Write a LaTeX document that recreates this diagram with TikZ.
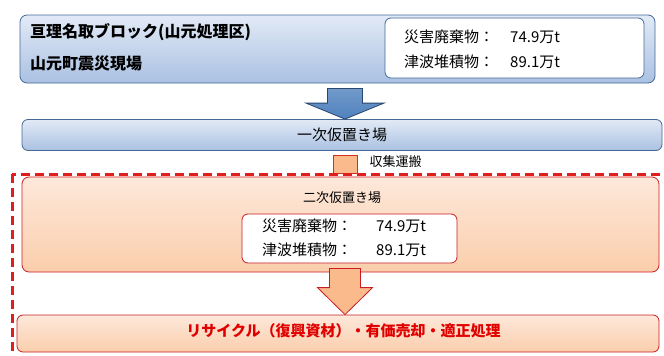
\documentclass[tikz,border=0pt]{standalone}
\usepackage{fontspec}
\setmainfont{Noto Sans CJK JP}
\usetikzlibrary{positioning, calc, shapes, fit}
\definecolor{bluebd}{RGB}{70,104,150}
\definecolor{bluetop}{RGB}{226,234,246}
\definecolor{bluebot}{RGB}{170,193,226}
\definecolor{arrblue}{RGB}{79,129,189}
\definecolor{arrbd}{RGB}{40,70,110}
\definecolor{redbd}{RGB}{200,30,35}
\definecolor{dashred}{RGB}{225,30,30}
\definecolor{peachtop}{RGB}{253,232,218}
\definecolor{peachbot}{RGB}{251,206,172}
\definecolor{arrpeach}{RGB}{250,186,140}
\definecolor{txtred}{RGB}{225,0,0}

\tikzset{
  bluebox/.style={rounded corners=7pt, draw=bluebd, thick, top color=bluetop, bottom color=bluebot},
  peachbox/.style={rounded corners=7pt, draw=redbd, thick, top color=peachtop, bottom color=peachbot},
  inbox/.style={rounded corners=6pt, draw, thick, fill=white},
  amount/.style={font=\fontsize{15}{18}\selectfont, inner sep=0pt, anchor=west},
  sitetext/.style={font=\bfseries\fontsize{16}{19}\selectfont, inner sep=0pt, anchor=west},
}

% block arrow: style, from, to, shaft half width, head half width, head length
\newcommand{\blockarr}[6]{%
  \draw[#1] let \p1=(#2), \p2=(#3) in
    (\x1-#4,\y1) -- (\x1+#4,\y1) -- (\x1+#4,\y2+#6) -- (\x1+#5,\y2+#6) --
    (\x1,\y2) -- (\x1-#5,\y2+#6) -- (\x1-#4,\y2+#6) -- cycle;}

\begin{document}
\begin{tikzpicture}[x=1pt,y=-1pt]
    \useasboundingbox (0,0) rectangle (664,356);
    % site
    \node[bluebox, minimum width=635pt, minimum height=68pt] (site) at (337.5,49) {};
    \node[sitetext] (site1) at (30,32) {亘理名取ブロック(山元処理区)};
    \node[sitetext] (site2) at (30,63) {山元町震災現場};
    \node[inbox, draw=bluebd, minimum width=259pt, minimum height=60pt] (sum1) at (514.5,48) {};
    \node[amount] (s1a) at (404,37) {災害廃棄物：};
    \node[amount] (s1b) at (404,62) {津波堆積物：};
    \node[amount] (s1c) at (510,37) {74.9万t};
    \node[amount] (s1d) at (510,62) {89.1万t};
    % first temporary yard
    \node[bluebox, rounded corners=6pt, minimum width=640pt, minimum height=31pt,
          font=\fontsize{15}{18}\selectfont] (yard1) at (342,135) {一次仮置き場};
    \coordinate (a1) at ($(site.south)+(7.5,5)$);
    \blockarr{draw=arrbd, thick, top color=arrblue!80, bottom color=arrblue}{a1}{a1 |- yard1.north}{17.5}{39}{16}
    % haulage
    \node[draw=redbd!80!orange, thick, fill=arrpeach, minimum width=24pt, minimum height=18pt,
          inner sep=0pt] (haul) at (345,164) {};
    \node[right=12pt of haul.east, yshift=2pt, font=\fontsize{13}{16}\selectfont, inner sep=0pt] (haullbl) {収集運搬};
    % dashed frame
    \draw[dashred, line width=3pt, dash pattern=on 9pt off 5pt] (12,174) rectangle (690,380);
    % second temporary yard
    \node[peachbox, minimum width=637pt, minimum height=95pt] (yard2) at (340.5,224.5) {};
    \node[font=\fontsize{13}{16}\selectfont] (yard2lbl) at (342,198) {二次仮置き場};
    \node[inbox, draw=redbd, minimum width=215pt, minimum height=49pt] (sum2) at (349.5,238.5) {};
    \node[amount] (s2a) at (262,226) {災害廃棄物：};
    \node[amount] (s2b) at (262,250) {津波堆積物：};
    \node[amount] (s2c) at (376,226) {74.9万t};
    \node[amount] (s2d) at (376,250) {89.1万t};
    % recycling
    \node[peachbox, rounded corners=6pt, minimum width=642pt, minimum height=37pt] (recycle) at (338,333.5) {};
    \node[font=\bfseries\fontsize{15}{18}\selectfont, text=txtred] (recyclbl) at (343.5,331)
          {リサイクル（復興資材）・有価売却・適正処理};
    \coordinate (a2) at ($(yard2.south)+(4.5,-4)$);
    \blockarr{draw=redbd, thick, fill=arrpeach}{a2}{a2 |- recycle.north}{15.5}{27.5}{27}
\end{tikzpicture}
\end{document}
